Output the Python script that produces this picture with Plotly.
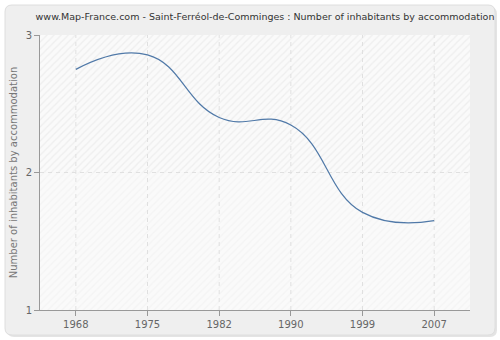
import plotly.graph_objects as go

years = ["1968", "1975", "1982", "1990", "1999", "2007"]
inhabitants_per_home = [2.75, 2.855, 2.40, 2.345, 1.71, 1.65]

x_idx = list(range(len(years)))
x_lo, x_hi = -0.5, len(years) - 0.5
y_lo, y_hi = 1, 3

W, H = 500, 340
ML, MR, MT, MB = 40, 30, 35, 30
PW, PH = W - ML - MR, H - MT - MB


def px(x):
    return (x - ML) / PW


def py(y):
    return (H - MB - y) / PH


def rounded_rect(x0, y0, x1, y1, r):
    return (
        f"M {px(x0 + r)},{py(y0)} L {px(x1 - r)},{py(y0)} "
        f"Q {px(x1)},{py(y0)} {px(x1)},{py(y0 + r)} "
        f"L {px(x1)},{py(y1 - r)} Q {px(x1)},{py(y1)} {px(x1 - r)},{py(y1)} "
        f"L {px(x0 + r)},{py(y1)} Q {px(x0)},{py(y1)} {px(x0)},{py(y1 - r)} "
        f"L {px(x0)},{py(y0 + r)} Q {px(x0)},{py(y0)} {px(x0 + r)},{py(y0)} Z"
    )


fig = go.Figure()

# hatched background bands
for band, fg in (((2, 3), "#e2e2e2"), ((1, 2), "#eeeeee")):
    b0, b1 = band
    fig.add_trace(go.Scatter(
        x=[x_lo, x_hi, x_hi, x_lo, x_lo], y=[b0, b0, b1, b1, b0],
        fill="toself", mode="none", hoverinfo="skip", showlegend=False,
        fillcolor="#fafafa",
        fillpattern=dict(shape="/", fgcolor=fg, bgcolor="#fafafa", size=5, solidity=0.25),
    ))

# dashed grid drawn over the hatching
for i in x_idx:
    fig.add_trace(go.Scatter(
        x=[i, i], y=[y_lo, y_hi], mode="lines", hoverinfo="skip", showlegend=False,
        line=dict(color="#e0e0e0", width=1, dash="4px,4px"),
    ))
fig.add_trace(go.Scatter(
    x=[x_lo, x_hi], y=[2, 2], mode="lines", hoverinfo="skip", showlegend=False,
    line=dict(color="#e0e0e0", width=1, dash="4px,4px"),
))

fig.add_trace(go.Scatter(
    x=x_idx, y=inhabitants_per_home, mode="lines",
    line=dict(color="#5079a8", width=1.2, shape="spline", smoothing=1.3),
    showlegend=False, hoverinfo="skip",
))

# outer rounded panel with a soft shadow
fig.add_shape(type="path", xref="paper", yref="paper", layer="below",
              path=rounded_rect(7, 7, 497, 337, 7),
              fillcolor="#e4e4e4", line=dict(width=0))
fig.add_shape(type="path", xref="paper", yref="paper", layer="below",
              path=rounded_rect(5, 5, 495, 335, 7),
              fillcolor="#efefef", line=dict(color="#dedede", width=1))

fig.update_layout(
    width=W, height=H,
    margin=dict(l=ML, r=MR, t=MT, b=MB, autoexpand=False),
    paper_bgcolor="#ffffff",
    plot_bgcolor="#fafafa",
    font=dict(family="DejaVu Sans", size=10, color="#666"),
    title=dict(
        text="www.Map-France.com - Saint-Ferréol-de-Comminges : Number of inhabitants by accommodation",
        x=265 / W, xanchor="center", y=1 - 17 / H, yanchor="middle",
        font=dict(family="DejaVu Sans", size=9.5, color="#333"),
    ),
    xaxis=dict(
        range=[x_lo, x_hi], tickmode="array", tickvals=x_idx, ticktext=years,
        showgrid=False, showline=True, linecolor="#999", linewidth=1,
        ticks="outside", ticklen=5, tickcolor="#999", automargin=False,
        zeroline=False, tickfont=dict(size=10, color="#666"),
    ),
    yaxis=dict(
        range=[y_lo, y_hi], tickvals=[1, 2, 3], ticktext=["1", "2", "3"],
        showgrid=False, showline=True, linecolor="#999", linewidth=1,
        ticks="outside", ticklen=5, tickcolor="#999", automargin=False,
        zeroline=False, tickfont=dict(size=10, color="#666"),
        title=dict(text="Number of inhabitants by accommodation",
                   font=dict(size=10, color="#777"), standoff=6),
    ),
)

fig.write_html("out.html")
